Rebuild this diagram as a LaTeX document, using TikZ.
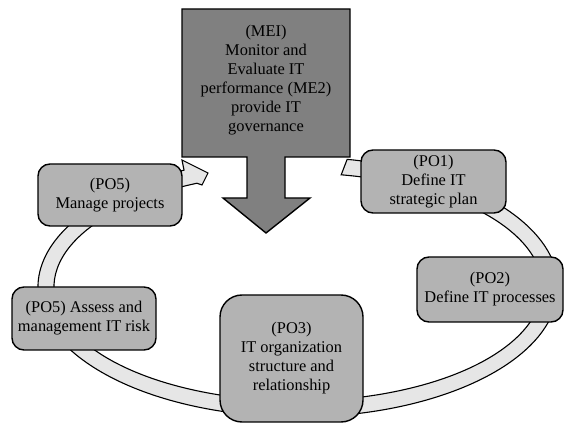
\documentclass[tikz,border=0pt]{standalone}
\usepackage{fontspec}
\setmainfont{Liberation Serif}
\usetikzlibrary{calc}
\definecolor{boxgray}{RGB}{179,179,179}
\definecolor{meigray}{RGB}{128,128,128}
\definecolor{bandgray}{RGB}{230,230,230}
\begin{document}
\begin{tikzpicture}[x=1pt,y=1pt,
  every node/.style={font=\fontsize{16.4}{19}\selectfont},
  box/.style={draw=black, line width=1.4pt, fill=boxgray, rounded corners=12pt, align=center, inner sep=0pt},
  band/.style={draw=black, line width=1.1pt, fill=bandgray, line join=miter},
  mei/.style={draw=black, line width=1.4pt, fill=meigray, line join=miter}]
\useasboundingbox (0,0) rectangle (565,423);
\coordinate (C) at (298,136);
% circular band arrow
\draw[band]
  ($(C)+(79.1:260pt and 130pt)$) arc[start angle=79.1, end angle=-244, x radius=260pt, y radius=130pt]
  -- (182,263) -- (208,250) -- (202,238)
  -- ($(C)+(-245.5:244pt and 114pt)$) arc[start angle=-245.5, end angle=79.8, x radius=244pt, y radius=114pt]
  -- cycle;
% MEI block arrow
\draw[mei] (182,414) -- (350,414) -- (350,266) -- (285,266) -- (285,225) -- (310,225)
  -- (266,190) -- (223,225) -- (247,225) -- (247,266) -- (182,266) -- cycle;
\node[align=center, inner sep=0pt] (mei) at (266,343)
  {(MEI)\\Monitor and\\Evaluate IT\\performance (ME2)\\provide IT\\governance};
% process boxes
\node[box, minimum width=144pt, minimum height=62pt] (po5a) at (110,228) {(PO5)\\Manage projects};
\node[box, minimum width=145pt, minimum height=63pt] (po1) at (433.5,241.5) {(PO1)\\Define IT\\strategic plan};
\node[box, minimum width=144pt, minimum height=63pt] (po5b) at (84,104.5) {(PO5) Assess and\\management IT risk};
\node[box, minimum width=146pt, minimum height=65pt] (po2) at (490,133.5) {(PO2)\\Define IT processes};
\node[box, rounded corners=22pt, minimum width=143pt, minimum height=127pt] (po3) at (291.5,64.5)
  {(PO3)\\IT organization\\structure and\\relationship};
\end{tikzpicture}
\end{document}
